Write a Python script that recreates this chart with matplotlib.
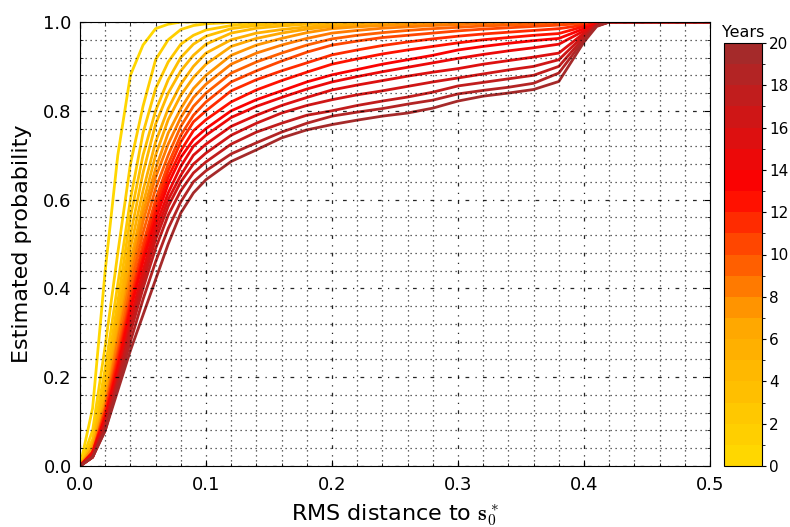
import numpy as np
import matplotlib
matplotlib.use('Agg')
import matplotlib.pyplot as plt
from matplotlib.colors import LinearSegmentedColormap, ListedColormap, BoundaryNorm
from matplotlib.ticker import MultipleLocator
import matplotlib.cm as cm

# ---------------- data ----------------
rms = [0.00, 0.01, 0.02, 0.03, 0.04, 0.05, 0.06, 0.07, 0.08, 0.09, 0.10,
       0.12, 0.14, 0.16, 0.18, 0.20, 0.22, 0.24, 0.26, 0.28, 0.30,
       0.32, 0.34, 0.36, 0.38, 0.40, 0.41, 0.42, 0.50]

year1 = [0, .13, .44, .70, .88, .948, .985, .995, 1, 1, 1, 1, 1, 1, 1, 1, 1, 1, 1, 1, 1, 1, 1, 1, 1, 1, 1, 1, 1]
year2 = [0, .08, .27, .48, .68, .81, .915, .96, .983, .992, .996, .999, 1, 1, 1, 1, 1, 1, 1, 1, 1, 1, 1, 1, 1, 1, 1, 1, 1]
year3 = [0, .06, .22, .41, .60, .75, .85, .91, .95, .97, .982, .992, .996, .998, .999, 1, 1, 1, 1, 1, 1, 1, 1, 1, 1, 1, 1, 1, 1]
year4 = [0, .05, .19, .37, .56, .70, .80, .87, .92, .95, .968, .985, .992, .996, .998, .999, 1, 1, 1, 1, 1, 1, 1, 1, 1, 1, 1, 1, 1]
year5 = [0, .05, .17, .34, .52, .66, .77, .84, .89, .925, .95, .975, .986, .991, .995, .997, .998, .999, 1, 1, 1, 1, 1, 1, 1, 1, 1, 1, 1]
year6 = [0, .04, .15, .32, .49, .62, .73, .805, .86, .90, .93, .96, .975, .983, .989, .993, .995, .997, .998, .999, .999, 1, 1, 1, 1, 1, 1, 1, 1]
year7 = [0, .04, .15, .30, .46, .59, .70, .78, .835, .875, .905, .945, .963, .975, .984, .99, .993, .995, .997, .998, .999, .999, 1, 1, 1, 1, 1, 1, 1]
year8 = [0, .04, .14, .29, .44, .57, .67, .75, .805, .85, .88, .925, .948, .963, .976, .985, .989, .992, .994, .996, .997, .998, .999, .999, 1, 1, 1, 1, 1]
year9 = [0, .03, .13, .28, .42, .55, .65, .725, .785, .83, .86, .905, .93, .948, .963, .975, .981, .986, .989, .992, .994, .996, .997, .998, .999, 1, 1, 1, 1]
year10 = [0, .03, .13, .26, .40, .525, .625, .70, .765, .81, .84, .885, .91, .93, .948, .962, .97, .976, .981, .985, .988, .991, .993, .995, .997, .999, 1, 1, 1]
year11 = [0, .03, .12, .25, .38, .50, .60, .68, .745, .79, .82, .865, .89, .912, .932, .948, .957, .965, .97, .975, .98, .984, .987, .99, .993, .997, .999, 1, 1]
year12 = [0, .03, .12, .24, .37, .485, .585, .665, .73, .775, .80, .845, .87, .89, .908, .926, .937, .947, .955, .962, .968, .973, .977, .981, .985, .993, .998, 1, 1]
year13 = [0, .03, .11, .23, .36, .47, .57, .65, .71, .755, .78, .82, .847, .868, .887, .905, .917, .928, .937, .945, .953, .96, .965, .97, .974, .99, .997, 1, 1]
year14 = [0, .03, .11, .22, .35, .46, .555, .635, .695, .735, .76, .80, .825, .845, .865, .881, .893, .905, .915, .925, .937, .945, .952, .958, .963, .985, .996, 1, 1]
year15 = [0, .03, .10, .21, .33, .44, .54, .615, .675, .72, .745, .785, .81, .83, .849, .865, .877, .888, .898, .908, .918, .927, .935, .942, .95, .98, .995, 1, 1]
year16 = [0, .02, .10, .20, .32, .43, .525, .60, .655, .70, .725, .765, .79, .812, .83, .847, .858, .868, .878, .887, .895, .905, .913, .921, .93, .975, .994, 1, 1]
year17 = [0, .02, .09, .19, .31, .415, .51, .585, .64, .68, .705, .745, .772, .795, .812, .825, .836, .845, .855, .865, .874, .883, .892, .90, .915, .97, .993, 1, 1]
year18 = [0, .02, .09, .19, .30, .40, .49, .565, .62, .66, .685, .725, .752, .772, .79, .80, .812, .822, .831, .842, .856, .864, .872, .88, .90, .965, .992, 1, 1]
year19 = [0, .02, .08, .18, .28, .375, .46, .535, .595, .64, .665, .703, .728, .752, .772, .788, .797, .805, .815, .824, .838, .846, .853, .862, .885, .96, .991, 1, 1]
year20 = [0, .02, .08, .17, .26, .34, .42, .50, .57, .615, .645, .686, .712, .739, .757, .769, .779, .788, .795, .806, .822, .833, .840, .848, .866, .955, .99, 1, 1]

curves = [year1, year2, year3, year4, year5, year6, year7, year8, year9, year10,
          year11, year12, year13, year14, year15, year16, year17, year18, year19, year20]
years = list(range(1, 21))
cbar_ticks = list(range(0, 21, 2))

# ---------------- style ----------------
plt.rcParams['font.family'] = ['DejaVu Sans']
plt.rcParams['mathtext.fontset'] = 'cm'

base = LinearSegmentedColormap.from_list('gob', ['gold', 'orange', 'red', 'brown'])
cmap20 = ListedColormap(base(np.linspace(0, 1, 20)))
norm = BoundaryNorm(np.arange(0, 21), 20)

fig = plt.figure(figsize=(7.9, 5.27), dpi=100)
ax = fig.add_axes([80 / 790, 61 / 527, 630 / 790, 444 / 527])

for i, (yr, c) in enumerate(zip(years, curves)):
    ax.plot(rms, c, color=cmap20(i), lw=2.0, zorder=2)

ax.set_xlim(0, 0.5)
ax.set_ylim(0, 1)
ax.xaxis.set_major_locator(MultipleLocator(0.1))
ax.xaxis.set_minor_locator(MultipleLocator(0.02))
ax.yaxis.set_major_locator(MultipleLocator(0.2))
ax.yaxis.set_minor_locator(MultipleLocator(0.04))
ax.set_axisbelow(False)
ax.grid(which='major', linestyle=(0, (3, 5, 1, 5)), color='k', lw=0.9, alpha=0.85)
ax.grid(which='minor', linestyle=(0, (1, 3)), color='k', lw=0.9, alpha=0.8)
ax.tick_params(which='both', direction='in', top=True, right=True, labelsize=13)
ax.tick_params(axis='x', pad=7)
ax.tick_params(axis='y', pad=6)
ax.tick_params(which='major', length=4)
ax.tick_params(which='minor', length=2)
ax.set_xlabel(r'RMS distance to $\mathbf{s}_0^*$', fontsize=16, labelpad=6)
ax.set_ylabel('Estimated probability', fontsize=16, labelpad=8)

cax = fig.add_axes([724 / 790, 61 / 527, 38 / 790, 423 / 527])
sm = cm.ScalarMappable(norm=norm, cmap=cmap20)
cb = fig.colorbar(sm, cax=cax, ticks=cbar_ticks)
cb.ax.tick_params(labelsize=11, length=3, pad=2)
cb.outline.set_linewidth(0.8)
cax.set_title('Years', fontsize=11.5, pad=4)

fig.savefig('out.png', dpi=100)
